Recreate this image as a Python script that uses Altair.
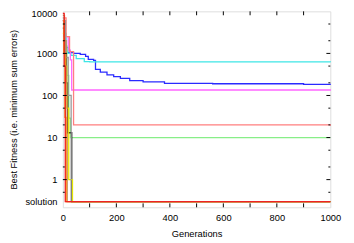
import altair as alt
import pandas as pd

# Runs: generation breakpoints and best fitness (step-after), colors
run_names = ["blue", "cyan", "magenta", "salmon", "green", "black", "yellow", "gray", "brown", "orange", "red"]
run_colors = ["#2a2aff", "#3fe6e6", "#ff66ff", "#ff7f7f", "#88ee88", "#000000", "#e6e600", "#999999", "#c0804a", "#ff8c00", "#ee2222"]

blue_gen = [0, 5, 10, 18, 40, 65, 85, 95, 115, 122, 140, 165, 190, 215, 250, 300, 380, 560, 900, 1000]
blue_val = [6000, 2500, 1400, 1050, 1000, 950, 850, 720, 680, 420, 360, 310, 280, 255, 225, 210, 195, 190, 183, 180]
cyan_gen = [0, 5, 12, 18, 30, 50, 80, 100, 1000]
cyan_val = [7000, 3000, 1300, 1000, 900, 750, 640, 630, 620]
magenta_gen = [0, 8, 20, 28, 33, 1000]
magenta_val = [6000, 2500, 1200, 700, 135, 130]
salmon_gen = [0, 12, 25, 40, 1000]
salmon_val = [7000, 2500, 1100, 20, 19]
green_gen = [0, 8, 15, 22, 28, 1000]
green_val = [5000, 1500, 300, 29, 10, 10]
black_gen = [0, 6, 12, 18, 33, 1000]
black_val = [4000, 1000, 200, 13, 0.3, 0.3]
yellow_gen = [0, 8, 15, 22, 36, 1000]
yellow_val = [3000, 500, 50, 1, 0.3, 0.3]
gray_gen = [0, 10, 20, 31, 1000]
gray_val = [6000, 800, 100, 0.3, 0.3]
brown_gen = [0, 6, 12, 16, 1000]
brown_val = [8000, 2000, 100, 0.3, 0.3]
orange_gen = [0, 4, 8, 12, 1000]
orange_val = [6000, 1000, 30, 0.3, 0.3]
red_gen = [0, 5, 9, 1000]
red_val = [9000, 500, 0.3, 0.3]

gens = [blue_gen, cyan_gen, magenta_gen, salmon_gen, green_gen, black_gen, yellow_gen, gray_gen, brown_gen, orange_gen, red_gen]
vals = [blue_val, cyan_val, magenta_val, salmon_val, green_val, black_val, yellow_val, gray_val, brown_val, orange_val, red_val]

y_tick_values = [0.3, 1, 10, 100, 1000, 10000]
y_minor_values = [0.5, 2, 5, 20, 50, 200, 500, 2000, 5000]
y_major_inner = [1, 10, 100, 1000]
x_tick_values = [0, 100, 200, 300, 400, 500, 600, 700, 800, 900, 1000]

rows = []
for i, (name, g, v) in enumerate(zip(run_names, gens, vals)):
    for gg, vv in zip(g, v):
        rows.append({"run": f"r{i:02d}", "gen": gg, "val": vv})
df = pd.DataFrame(rows)

W, H = 273, 200
FONT = "Liberation Sans"

xscale = alt.Scale(domain=[0, 1000], nice=False)
yscale = alt.Scale(type="log", domain=[0.22, 10000], nice=False)

lines = alt.Chart(df).mark_line(interpolate="step-after", strokeWidth=1.3).encode(
    x=alt.X("gen:Q", scale=xscale, axis=alt.Axis(
        title="Generations", values=x_tick_values, format="d", ticks=False, domain=False, grid=False,
        labelOverlap=False, labelFlush=False,
        labelPadding=6, labelFont=FONT, labelFontSize=9.5, labelColor="#000",
        titleFont=FONT, titleFontSize=9.5, titleFontWeight="normal", titleColor="#000",
        titleY=27, titleBaseline="middle")),
    y=alt.Y("val:Q", scale=yscale, axis=alt.Axis(
        title="Best Fitness (i.e. minimum sum errors)", values=y_tick_values,
        labelExpr="datum.value < 0.5 ? 'solution' : format(datum.value, 'd')",
        labelOverlap=False, labelFlush=True, labelFlushOffset=3,
        ticks=False, domain=False, grid=False, labelPadding=6,
        labelFont=FONT, labelFontSize=9.5, labelColor="#000",
        titleFont=FONT, titleFontSize=9.5, titleFontWeight="normal", titleColor="#000",
        titleX=-50, titleBaseline="middle")),
    color=alt.Color("run:N", scale=alt.Scale(domain=[f"r{i:02d}" for i in range(len(run_names))], range=run_colors), legend=None),
)

xt = pd.DataFrame({"gen": x_tick_values[1:-1]})
x_bot = alt.Chart(xt).mark_rule(color="#000", strokeWidth=1).encode(
    x=alt.X("gen:Q", scale=xscale), y=alt.value(H), y2=alt.value(H - 4))
x_top = alt.Chart(xt).mark_rule(color="#000", strokeWidth=1).encode(
    x=alt.X("gen:Q", scale=xscale), y=alt.value(0), y2=alt.value(4))

ym = pd.DataFrame({"val": y_major_inner})
yn = pd.DataFrame({"val": y_minor_values})
y_left = alt.Chart(ym).mark_rule(color="#000", strokeWidth=1).encode(
    y=alt.Y("val:Q", scale=yscale), x=alt.value(0), x2=alt.value(4))
y_right = alt.Chart(ym).mark_rule(color="#000", strokeWidth=1).encode(
    y=alt.Y("val:Q", scale=yscale), x=alt.value(W), x2=alt.value(W - 4))
yn_left = alt.Chart(yn).mark_rule(color="#000", strokeWidth=1).encode(
    y=alt.Y("val:Q", scale=yscale), x=alt.value(0), x2=alt.value(2))
yn_right = alt.Chart(yn).mark_rule(color="#000", strokeWidth=1).encode(
    y=alt.Y("val:Q", scale=yscale), x=alt.value(W), x2=alt.value(W - 2))

chart = alt.layer(lines, x_bot, x_top, y_left, y_right, yn_left, yn_right).properties(
    width=W, height=H,
    padding={"left": 56, "top": 1, "right": 16, "bottom": 32},
    autosize=alt.AutoSizeParams(type="none"),
).configure_view(stroke="#000", strokeWidth=1).configure(background="white")

chart.save("out.html", embed_options={"renderer": "svg", "actions": False})
